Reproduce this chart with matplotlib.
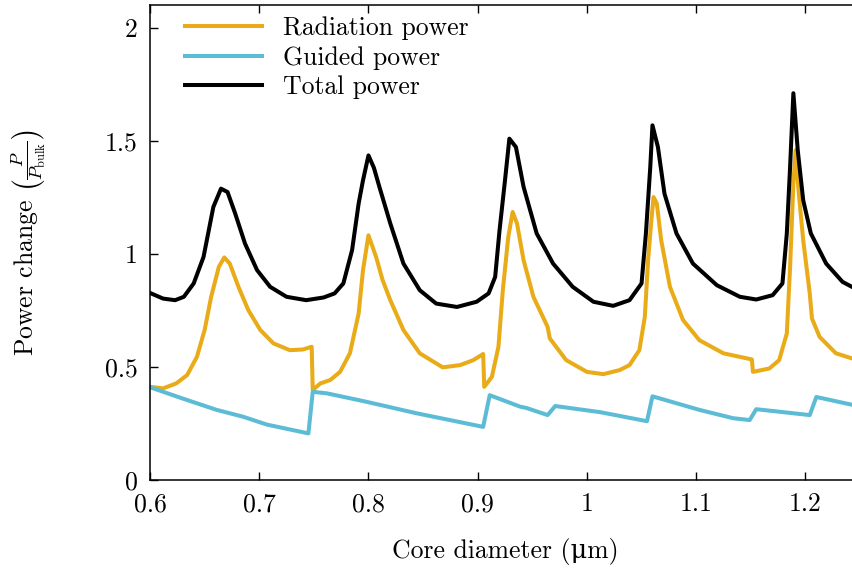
import matplotlib
matplotlib.use("Agg")
import matplotlib.pyplot as plt

#################
# Data
#################
total_x = [0.600, 0.612, 0.623, 0.631, 0.640, 0.649, 0.658, 0.665, 0.671, 0.678,
           0.687, 0.698, 0.710, 0.725, 0.743, 0.759, 0.769, 0.777, 0.785, 0.791,
           0.795, 0.800, 0.805, 0.810, 0.820, 0.832, 0.847, 0.862, 0.881, 0.899,
           0.910, 0.916, 0.920, 0.925, 0.929, 0.935, 0.942, 0.954, 0.969, 0.987,
           1.006, 1.024, 1.039, 1.050, 1.054, 1.058, 1.060, 1.065, 1.071, 1.082,
           1.097, 1.119, 1.140, 1.155, 1.170, 1.179, 1.183, 1.186, 1.189, 1.193,
           1.198, 1.205, 1.219, 1.234, 1.250]
total_y = [0.827, 0.802, 0.795, 0.810, 0.869, 0.986, 1.207, 1.288, 1.273, 1.178,
           1.045, 0.928, 0.854, 0.810, 0.795, 0.807, 0.825, 0.869, 1.016, 1.222,
           1.325, 1.435, 1.380, 1.296, 1.134, 0.957, 0.839, 0.780, 0.765, 0.788,
           0.825, 0.898, 1.104, 1.325, 1.509, 1.472, 1.296, 1.090, 0.957, 0.854,
           0.788, 0.770, 0.795, 0.869, 1.090, 1.384, 1.568, 1.472, 1.266, 1.090,
           0.957, 0.861, 0.810, 0.798, 0.817, 0.869, 1.090, 1.384, 1.710, 1.458,
           1.237, 1.090, 0.957, 0.876, 0.835]

rad_x = [0.600, 0.612, 0.624, 0.634, 0.643, 0.650, 0.656, 0.663, 0.668, 0.673,
         0.681, 0.690, 0.701, 0.713, 0.728, 0.740, 0.748, 0.749, 0.756, 0.765,
         0.774, 0.783, 0.791, 0.795, 0.800, 0.807, 0.813, 0.820, 0.832, 0.847,
         0.868, 0.884, 0.896, 0.905, 0.906, 0.913, 0.919, 0.923, 0.928, 0.932,
         0.936, 0.942, 0.951, 0.964, 0.966, 0.981, 1.000, 1.015, 1.030, 1.039,
         1.048, 1.053, 1.056, 1.059, 1.061, 1.064, 1.068, 1.076, 1.088, 1.103,
         1.125, 1.151, 1.152, 1.167, 1.176, 1.183, 1.186, 1.189, 1.191, 1.194,
         1.198, 1.204, 1.206, 1.213, 1.228, 1.243, 1.250]
rad_y = [0.412, 0.405, 0.427, 0.464, 0.545, 0.663, 0.810, 0.942, 0.984, 0.957,
         0.854, 0.751, 0.663, 0.604, 0.574, 0.577, 0.589, 0.398, 0.427, 0.442,
         0.478, 0.560, 0.736, 0.928, 1.082, 0.986, 0.883, 0.795, 0.663, 0.560,
         0.498, 0.508, 0.530, 0.557, 0.412, 0.456, 0.589, 0.839, 1.075, 1.185,
         1.134, 0.972, 0.810, 0.677, 0.626, 0.530, 0.478, 0.468, 0.486, 0.508,
         0.574, 0.721, 0.972, 1.148, 1.251, 1.222, 1.060, 0.854, 0.707, 0.618,
         0.560, 0.533, 0.478, 0.493, 0.530, 0.648, 0.942, 1.310, 1.458, 1.266,
         1.060, 0.825, 0.714, 0.633, 0.560, 0.537, 0.530]

guided_x = [0.600, 0.630, 0.661, 0.685, 0.707, 0.745, 0.749, 0.762, 0.798, 0.844,
            0.905, 0.911, 0.939, 0.945, 0.964, 0.971, 1.012, 1.055, 1.060, 1.103,
            1.134, 1.149, 1.155, 1.204, 1.210, 1.250]
guided_y = [0.410, 0.360, 0.310, 0.280, 0.245, 0.206, 0.390, 0.383, 0.346, 0.295,
            0.235, 0.375, 0.324, 0.318, 0.287, 0.327, 0.300, 0.260, 0.370, 0.310,
            0.273, 0.265, 0.313, 0.287, 0.367, 0.325]

xticks = [0.6, 0.7, 0.8, 0.9, 1.0, 1.1, 1.2]
xtick_labels = ['0.6', '0.7', '0.8', '0.9', '1', '1.1', '1.2']
yticks = [0, 0.5, 1.0, 1.5, 2.0]
ytick_labels = ['0', '0.5', '1', '1.5', '2']

#################
# Style
#################
plt.rcParams['font.family'] = ['cmr10', 'DejaVu Serif']
plt.rcParams['mathtext.fontset'] = 'cm'
plt.rcParams['axes.formatter.use_mathtext'] = True
plt.rcParams['font.size'] = 18.5

orange = '#E9AB17'
blue = '#5CBCD6'

fig = plt.figure(figsize=(8.53, 5.72), dpi=100)
# right spine sits just past the image edge, as in the reference
ax = fig.add_axes([150 / 853, 92 / 572, 710 / 853, 475 / 572])

ax.plot(rad_x, rad_y, color=orange, lw=2.9, label='Radiation power')
ax.plot(guided_x, guided_y, color=blue, lw=2.9, label='Guided power')
ax.plot(total_x, total_y, color='black', lw=2.9, label='Total power')

ax.set_xlim(0.6, 1.25)
ax.set_ylim(0, 2.1)
ax.set_xticks(xticks)
ax.set_xticklabels(xtick_labels)
ax.set_yticks(yticks)
ax.set_yticklabels(ytick_labels)
ax.tick_params(direction='in', length=6, width=1, top=True, right=True, pad=9)
for s in ax.spines.values():
    s.set_linewidth(1.1)

ax.set_xlabel('Core diameter (\u03bcm)', labelpad=16)
ax.set_ylabel(r'Power change $\left(\frac{P}{P_{\mathrm{bulk}}}\right)$', labelpad=40)

ax.legend(loc='upper left', bbox_to_anchor=(0.028, 1.008), frameon=False,
          handlelength=3.0, handletextpad=0.8, labelspacing=0.22, borderaxespad=0.2)

fig.savefig('out.png', dpi=100)
